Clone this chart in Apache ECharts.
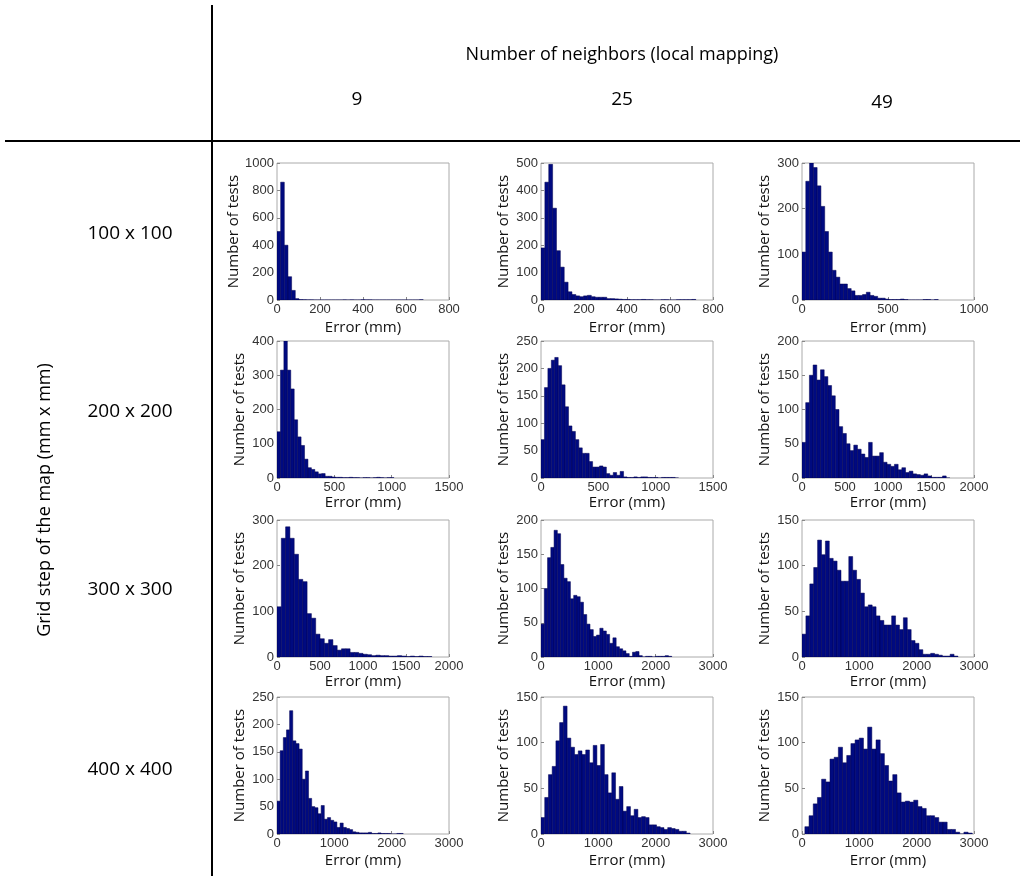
<!DOCTYPE html>
<html><head><meta charset="utf-8">
<script src="https://cdn.jsdelivr.net/npm/echarts@6/dist/echarts.min.js"></script>
<style>html,body{margin:0;background:#fff}#c{width:1024px;height:881px}</style>
</head><body><div id="c"></div>
<script>
// Column / row headers
const colHeaders = ['9', '25', '49'];
const rowHeaders = ['100 x 100', '200 x 200', '300 x 300', '400 x 400'];
// Histogram data per panel: bin start (mm), bin width (mm), counts
const p1 = {start:0, width:17, xMax:800, xInt:200, yMax:1000, yInt:200, counts:[500,860,400,170,70,10,3,2,1,1,0,0,0,0,0,0,0,0,1,0,1,0,0,2,1,1,0,0,0,0,0,0,0,0,0,0,0,0,0,2]};
const p2 = {start:0, width:18, xMax:800, xInt:200, yMax:500, yInt:100, counts:[190,430,495,335,180,120,65,30,20,15,12,15,17,12,10,10,10,5,5,4,3,2,2,1,1,1,2,1,1,0,0,1,1,0,0,1,1,1,1,2]};
const p3 = {start:0, width:22, xMax:1000, xInt:500, yMax:300, yInt:100, counts:[105,260,300,290,250,205,150,105,65,50,35,35,25,20,10,10,12,17,10,8,4,4,2,1,1,1,2,1,0,0,0,0,1,1,0,1]};
const p4 = {start:0, width:30, xMax:1500, xInt:500, yMax:400, yInt:100, counts:[135,315,400,315,260,170,120,95,55,30,25,18,12,13,5,5,3,2,2,1,1,2,1,1,0,1,1,0,1,2,1,0,1,1]};
const p5 = {start:0, width:30, xMax:1500, xInt:500, yMax:250, yInt:50, counts:[70,165,200,215,220,205,170,130,95,85,70,55,45,45,30,20,20,22,20,8,5,10,5,12,2,1,1,2,1,2,2,1,1,1,0,1,1,1,1,0]};
const p6 = {start:0, width:43, xMax:2000, xInt:500, yMax:200, yInt:50, counts:[52,110,150,165,143,158,148,135,120,100,75,65,50,40,48,42,35,30,52,32,32,37,23,20,17,20,12,15,8,10,6,5,4,6,3,1,1,1,3,0]};
const p7 = {start:0, width:50, xMax:2000, xInt:500, yMax:300, yInt:100, counts:[110,260,285,260,225,170,165,95,85,50,40,30,38,25,15,18,18,10,10,8,6,5,3,4,3,3,2,2,3,2,1,2,1,2,1,1]};
const p8 = {start:0, width:57, xMax:3000, xInt:1000, yMax:200, yInt:50, counts:[48,100,145,160,185,180,135,115,110,85,90,88,80,62,48,40,30,32,42,38,33,20,28,15,12,9,5,1,7,8,2,0,1,1,0,1,1,1,2,1]};
const p9 = {start:0, width:68, xMax:3000, xInt:1000, yMax:150, yInt:50, counts:[25,45,80,98,128,112,127,108,105,95,83,83,110,95,85,70,55,57,55,45,40,35,35,45,35,30,43,30,18,15,8,3,3,4,3,2,1,1,3,1]};
const p10 = {start:0, width:55, xMax:3000, xInt:1000, yMax:250, yInt:50, counts:[60,152,176,190,225,170,165,155,100,115,65,50,48,37,52,27,30,25,22,12,20,12,10,8,4,3,2,2,2,3,1,1,2,1,1,1,0,0,1,1]};
const p11 = {start:0, width:65, xMax:3000, xInt:1000, yMax:150, yInt:50, counts:[18,40,65,74,102,122,140,105,95,87,91,87,92,78,97,75,98,65,45,67,38,52,25,30,20,27,18,19,18,10,10,8,7,5,7,6,5,3,3,1]};
const p12 = {start:50, width:73, xMax:3000, xInt:1000, yMax:150, yInt:50, counts:[8,20,33,40,60,57,82,84,95,78,86,99,103,105,93,117,93,103,88,75,58,65,45,35,36,35,37,30,28,20,20,18,13,13,5,5,2,0,2,1]};
const panels = [p1,p2,p3,p4,p5,p6,p7,p8,p9,p10,p11,p12];

const colX = [277, 541, 802];
const rowY = [163, 341, 520, 697];
const gw = 172, gh = 137;
const font = '"Liberation Sans", Arial, sans-serif';
const cal = '"Open Sans", "Noto Sans", sans-serif';
const xGaps = [20, 16, 16, 19];

const grids=[], xAxes=[], yAxes=[], series=[];
panels.forEach((p,i)=>{
  const r=Math.floor(i/3), c=i%3;
  grids.push({left:colX[c], top:rowY[r], width:gw, height:gh, show:true, borderColor:'#aaa', borderWidth:1, backgroundColor:'#fff'});
  xAxes.push({type:'value', gridIndex:i, min:0, max:p.xMax, interval:p.xInt,
    name:'Error (mm)', nameLocation:'middle', nameGap:xGaps[r],
    nameTextStyle:{fontFamily:cal, fontSize:15, color:'#111'},
    axisLine:{show:false}, splitLine:{show:false},
    axisTick:{inside:true, length:3, lineStyle:{color:'#888'}},
    axisLabel:{fontFamily:font, fontSize:13, color:'#333', margin:3, formatter:v=>String(v)}});
  yAxes.push({type:'value', gridIndex:i, min:0, max:p.yMax, interval:p.yInt,
    name:'Number of tests', nameLocation:'middle', nameGap:c===0&&p.yMax>=1000?36:30,
    nameTextStyle:{fontFamily:cal, fontSize:15, color:'#111'},
    axisLine:{show:false}, splitLine:{show:false},
    axisTick:{inside:true, length:3, lineStyle:{color:'#888'}},
    axisLabel:{fontFamily:font, fontSize:13, color:'#333', margin:3, formatter:v=>String(v)}});
  const data = p.counts.map((v,k)=>[p.start+k*p.width, p.start+(k+1)*p.width, v]);
  series.push({type:'custom', xAxisIndex:i, yAxisIndex:i, data:data, clip:true,
    encode:{x:[0,1], y:2},
    renderItem:(params, api)=>{
      const a=api.coord([api.value(0),0]), b=api.coord([api.value(1),api.value(2)]);
      return {type:'rect', shape:{x:a[0], y:b[1], width:b[0]-a[0], height:a[1]-b[1]},
        style:{fill:'#000a80', stroke:'#000050', lineWidth:0.5}};
    }});
});

const graphic = [
  {type:'line', shape:{x1:212,y1:5,x2:212,y2:876}, style:{stroke:'#000', lineWidth:2}},
  {type:'line', shape:{x1:5,y1:141,x2:1020,y2:141}, style:{stroke:'#000', lineWidth:2}},
  {type:'text', x:622, y:55, style:{text:'Number of neighbors (local mapping)', font:'18px '+cal, fill:'#000', align:'center', verticalAlign:'middle'}},
  {type:'text', x:45, y:500, rotation:Math.PI/2, style:{text:'Grid step of the map (mm x mm)', font:'18px '+cal, fill:'#000', align:'center', verticalAlign:'middle'}}
];
const hx=[357,622,882], hy=[100,100,103];
colHeaders.forEach((t,i)=>graphic.push({type:'text', x:hx[i], y:hy[i], style:{text:t, font:'19px '+cal, fill:'#000', align:'center', verticalAlign:'middle'}}));
const ry=[234,412,590,770];
rowHeaders.forEach((t,i)=>graphic.push({type:'text', x:130, y:ry[i], style:{text:t, font:'19px '+cal, fill:'#000', align:'center', verticalAlign:'middle'}}));

const chart = echarts.init(document.getElementById('c'));
chart.setOption({animation:false, backgroundColor:'#fff', grid:grids, xAxis:xAxes, yAxis:yAxes, series:series, graphic:graphic});
</script></body></html>
